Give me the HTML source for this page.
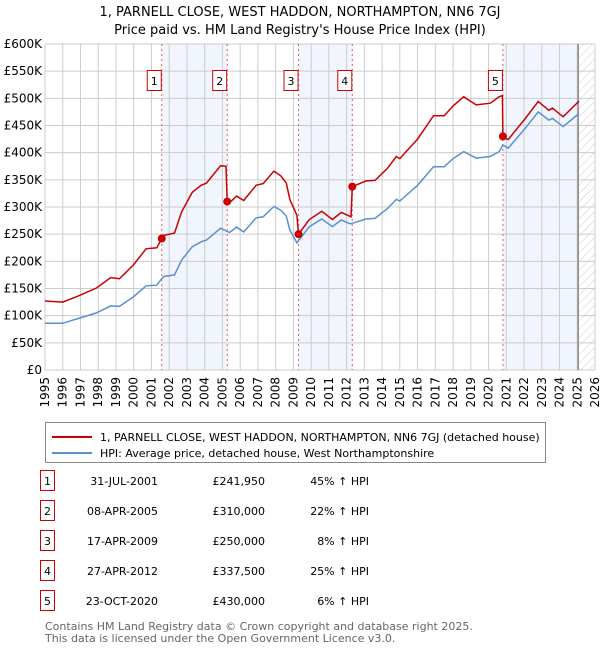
<!DOCTYPE html>
<html><head><meta charset="utf-8"><style>
body{margin:0;background:#fff;font-family:"DejaVu Sans","Liberation Sans",sans-serif;}
svg text{font-family:"DejaVu Sans","Liberation Sans",sans-serif;}
</style></head><body>
<svg id="chart" width="600" height="650" xmlns="http://www.w3.org/2000/svg">
<defs><pattern id="hatch" width="6" height="6" patternUnits="userSpaceOnUse" patternTransform="rotate(45)"><line x1="0" y1="0" x2="0" y2="6" stroke="#ccc" stroke-width="1"/></pattern></defs>
<text x="300" y="16" text-anchor="middle" font-size="13">1, PARNELL CLOSE, WEST HADDON, NORTHAMPTON, NN6 7GJ</text>
<text x="300" y="34" text-anchor="middle" font-size="13">Price paid vs. HM Land Registry's House Price Index (HPI)</text>
<g id="plot"></g>
<rect x="45.5" y="422.5" width="500" height="40" fill="#fff" stroke="#888"/>
<line x1="52" y1="437" x2="92" y2="437" stroke="#cc0000" stroke-width="2"/>
<text x="100" y="441" font-size="11">1, PARNELL CLOSE, WEST HADDON, NORTHAMPTON, NN6 7GJ (detached house)</text>
<line x1="52" y1="453" x2="92" y2="453" stroke="#5b8fd0" stroke-width="2"/>
<text x="100" y="457" font-size="11">HPI: Average price, detached house, West Northamptonshire</text>
<g id="table"></g>
<text x="45" y="630" font-size="11" fill="#666">Contains HM Land Registry data © Crown copyright and database right 2025.</text>
<text x="45" y="642" font-size="11" fill="#666">This data is licensed under the Open Government Licence v3.0.</text>
</svg>
<script>
const hpiDates=[1995.0,1996.0,1996.8,1997.9,1998.7,1999.2,2000.0,2000.7,2001.3,2001.58,2001.7,2002.3,2002.7,2003.3,2003.8,2004.1,2004.9,2005.27,2005.4,2005.8,2006.2,2006.9,2007.3,2007.9,2008.3,2008.6,2008.8,2009.2,2009.29,2009.4,2009.9,2010.6,2011.2,2011.7,2012.2,2012.32,2013.1,2013.6,2014.3,2014.8,2015.0,2016.0,2016.9,2017.5,2018.0,2018.6,2019.3,2020.1,2020.6,2020.81,2021.1,2022.0,2022.8,2023.4,2023.6,2024.2,2025.1];
const hpiValues=[86,86,94,105,118,117,135,155,156,168,172,175,202,227,236,239,261,255,253,263,254,280,282,301,294,283,258,234,238,243,264,278,264,276,269,270,278,279,297,314,311,340,374,374,389,402,390,393,402,414,408,442,475,460,463,448,472];
const redDates=[1995.0,1996.0,1996.8,1997.9,1998.7,1999.2,2000.0,2000.7,2001.3,2001.58,2001.7,2002.3,2002.7,2003.3,2003.8,2004.1,2004.9,2005.2,2005.27,2005.4,2005.8,2006.2,2006.9,2007.3,2007.9,2008.3,2008.6,2008.8,2009.2,2009.29,2009.4,2009.9,2010.6,2011.2,2011.7,2012.25,2012.32,2013.1,2013.6,2014.3,2014.8,2015.0,2016.0,2016.9,2017.5,2018.0,2018.6,2019.3,2020.1,2020.6,2020.78,2020.81,2021.1,2022.0,2022.8,2023.4,2023.6,2024.2,2025.1];
const redValues=[127,125,135,151,170,168,194,223,225,241.95,248,252,291,327,340,344,376,375,310,308,320,312,340,343,366,357,344,314,285,250,255,277,292,277,290,282,337.5,348,349,371,393,389,425,468,468,486,503,488,491,503,505,430,424,460,494,478,482,466,495];
const saleLabels=["1","2","3","4","5"];
const saleDates=[2001.58,2005.27,2009.29,2012.32,2020.81];
const salePrices=[241.95,310,250,337.5,430];
const saleDateText=["31-JUL-2001","08-APR-2005","17-APR-2009","27-APR-2012","23-OCT-2020"];
const salePriceText=["£241,950","£310,000","£250,000","£337,500","£430,000"];
const salePctText=["45% ↑ HPI","22% ↑ HPI","8% ↑ HPI","25% ↑ HPI","6% ↑ HPI"];
const yTicks=[0,50,100,150,200,250,300,350,400,450,500,550,600];
const yTickLabels=["£0","£50K","£100K","£150K","£200K","£250K","£300K","£350K","£400K","£450K","£500K","£550K","£600K"];
const xYears=[1995,1996,1997,1998,1999,2000,2001,2002,2003,2004,2005,2006,2007,2008,2009,2010,2011,2012,2013,2014,2015,2016,2017,2018,2019,2020,2021,2022,2023,2024,2025,2026];
const dataEnd=2025.05;

const NS="http://www.w3.org/2000/svg";
const X0=45,X1=595,Y0=370,Y1=44;
const xs=d=>X0+(d-1995)/(2026-1995)*(X1-X0);
const ys=v=>Y0-v/600*(Y0-Y1);
const plot=document.getElementById('plot');
function mk(tag,attrs,parent){const e=document.createElementNS(NS,tag);for(const k in attrs)e.setAttribute(k,attrs[k]);(parent||plot).appendChild(e);return e;}
// shaded bands
for(let i=0;i<saleDates.length;i+=2){
  const a=saleDates[i],b=i+1<saleDates.length?saleDates[i+1]:dataEnd;
  const r=mk('rect',{x:xs(a),y:Y1,width:xs(b)-xs(a),height:Y0-Y1,fill:'#eef3fc',opacity:0.8});
  
  
}
const hr=mk('rect',{x:xs(dataEnd),y:Y1,width:X1-xs(dataEnd),height:Y0-Y1,fill:'url(#hatch)'});


// grid
xYears.forEach(y=>{const l=mk('line',{x1:xs(y),x2:xs(y),y1:Y1,y2:Y0,stroke:'#ccc','stroke-width':1});
  
  
  const t=mk('text',{x:0,y:0,'font-size':12,'text-anchor':'end',transform:`translate(${xs(y)+4},377) rotate(-90)`});
  t.textContent=y;
  
  
});
yTicks.forEach((v,i)=>{const l=mk('line',{x1:X0,x2:X1,y1:ys(v),y2:ys(v),stroke:'#ccc','stroke-width':1});
  
  
  const t=mk('text',{x:X0-3,y:ys(v)+4,'font-size':12,'text-anchor':'end'});
  t.textContent=yTickLabels[i];
  
  
});
const el=mk('line',{x1:xs(dataEnd),x2:xs(dataEnd),y1:Y1,y2:Y0,stroke:'#888','stroke-width':1.5});


// sale lines and labels
saleDates.forEach((d,i)=>{
  const l=mk('line',{x1:xs(d),x2:xs(d),y1:Y1,y2:Y0,stroke:'#e06060','stroke-width':1,'stroke-dasharray':'2,3'});
  
  
  const b=mk('rect',{x:xs(d)-14.5,y:70.5,width:14,height:20,fill:'#fff',stroke:'#cc0000'});
  
  
  const t=mk('text',{x:xs(d)-7.5,y:85,'font-size':11,'text-anchor':'middle'});
  t.textContent=saleLabels[i];
  
  
});
const path=(ds,vs)=>ds.map((d,i)=>(i?'L':'M')+xs(d).toFixed(1)+','+ys(vs[i]).toFixed(1)).join('');
const hp=mk('path',{d:path(hpiDates,hpiValues),fill:'none',stroke:'#5b8fd0','stroke-width':1.5});


const rp=mk('path',{d:path(redDates,redValues),fill:'none',stroke:'#cc0000','stroke-width':1.5});


saleDates.forEach((d,i)=>{const c=mk('circle',{cx:xs(d),cy:ys(salePrices[i]),r:4,fill:'#cc0000'});
  
  
});
// table
const tb=document.getElementById('table');
const rowY=[483,513,543,573,603];
saleLabels.forEach((s,i)=>{const y=rowY[i];
  const b=mk('rect',{x:40.5,y:y-12.5,width:14,height:20,fill:'#fff',stroke:'#cc0000'},tb);
  
  
  const t0=mk('text',{x:47.5,y:y+2,'font-size':11,'text-anchor':'middle'},tb);t0.textContent=s;
  
  
  const t1=mk('text',{x:158,y:y+2,'font-size':11,'text-anchor':'end'},tb);t1.textContent=saleDateText[i];
  
  
  const t2=mk('text',{x:265,y:y+2,'font-size':11,'text-anchor':'end'},tb);t2.textContent=salePriceText[i];
  
  
  const t3=mk('text',{x:369,y:y+2,'font-size':11,'text-anchor':'end'},tb);t3.textContent=salePctText[i];
  
  
});
</script>
</body></html>
